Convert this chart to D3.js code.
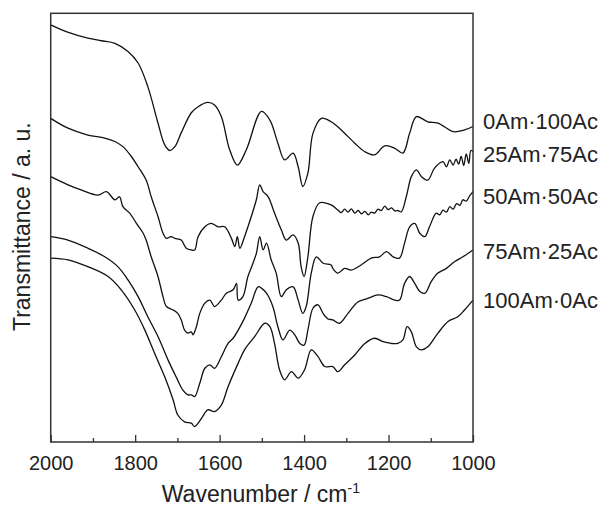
<!DOCTYPE html>
<html>
<head>
<meta charset="utf-8">
<script src="https://cdn.jsdelivr.net/npm/d3@7"></script>
<style>
  body { margin: 0; background: #fff; }
  text { font-family: "Liberation Sans", Arial, sans-serif; fill: #222; }
</style>
</head>
<body>
<div id="svg-container"></div>
<script>
// FTIR spectra, [wavenumber (cm-1), transmittance (a.u.)]
var am0ac100 = [[2000,97.3],[1960,95.6],[1912,94.2],[1880,93.6],[1848,93.0],[1817,91.1],[1793,88.4],[1770,82.9],[1746,74.4],[1730,69.3],[1718,68.0],[1706,68.9],[1691,72.1],[1667,76.8],[1651,78.2],[1628,79.2],[1612,78.6],[1596,75.9],[1576,68.1],[1558,64.6],[1537,68.1],[1501,77.1],[1481,75.1],[1462,69.7],[1446,65.8],[1426,67.4],[1414,64.2],[1403,59.6],[1391,62.7],[1379,72.0],[1359,75.5],[1336,74.7],[1312,72.8],[1280,69.7],[1256,67.7],[1233,67.0],[1209,69.1],[1185,68.5],[1166,67.4],[1150,72.0],[1134,75.9],[1107,74.7],[1083,74.4],[1047,72.4],[1020,72.8],[1000,73.6]];

var am25ac75 = [[2000,75.5],[1959,73.2],[1912,71.6],[1872,70.9],[1848,70.1],[1829,68.9],[1809,66.6],[1793,64.2],[1774,61.1],[1762,57.2],[1746,52.6],[1734,48.7],[1726,47.5],[1715,47.9],[1706,47.5],[1691,47.1],[1679,45.2],[1667,44.8],[1659,44.8],[1651,47.9],[1635,50.2],[1620,51.0],[1604,50.2],[1588,50.2],[1572,47.5],[1564,45.6],[1558,47.9],[1552,45.2],[1541,47.9],[1525,52.6],[1513,56.5],[1505,60.0],[1497,58.4],[1485,57.2],[1470,53.4],[1454,49.5],[1442,47.1],[1426,48.3],[1414,46.4],[1407,40.9],[1400,38.6],[1391,43.2],[1379,52.6],[1363,55.8],[1336,55.3],[1320,54.1],[1312,53.5],[1304,54.3],[1296,53.6],[1288,54.4],[1280,53.4],[1272,54.0],[1264,53.2],[1256,53.8],[1248,53.0],[1241,53.6],[1233,53.4],[1225,54.3],[1217,54.0],[1209,55.0],[1201,54.2],[1193,54.6],[1185,53.9],[1178,54.0],[1170,53.7],[1158,57.2],[1146,61.9],[1134,63.5],[1122,61.9],[1107,61.1],[1091,63.9],[1071,65.4],[1063,64.2],[1055,65.8],[1047,64.6],[1040,66.0],[1034,64.8],[1028,66.6],[1022,64.5],[1016,67.2],[1010,65.0],[1005,68.0],[1000,67.7]];

var am50ac50 = [[2000,61.9],[1959,60.0],[1928,58.8],[1888,57.6],[1868,58.4],[1848,56.5],[1837,57.2],[1829,54.9],[1813,53.4],[1797,51.0],[1781,48.7],[1774,47.1],[1762,43.2],[1746,38.6],[1734,33.9],[1726,31.6],[1710,30.8],[1699,30.0],[1691,28.5],[1683,26.1],[1675,25.4],[1667,25.7],[1663,25.0],[1655,26.9],[1647,30.0],[1635,32.4],[1623,33.1],[1612,31.6],[1596,33.1],[1584,34.7],[1568,35.5],[1560,37.0],[1556,33.1],[1545,33.9],[1533,38.6],[1521,41.7],[1513,44.0],[1505,47.9],[1497,44.8],[1489,46.4],[1478,42.5],[1466,39.4],[1454,33.9],[1442,35.5],[1426,36.2],[1414,33.1],[1403,30.0],[1395,31.6],[1383,39.4],[1371,43.2],[1355,41.7],[1336,41.3],[1332,40.5],[1320,39.4],[1304,40.5],[1288,40.1],[1265,41.3],[1241,42.9],[1221,43.2],[1205,44.4],[1189,43.2],[1174,42.9],[1162,46.4],[1150,50.2],[1138,51.0],[1126,48.7],[1114,47.9],[1103,50.2],[1087,53.4],[1079,53.0],[1071,54.1],[1063,53.6],[1055,54.9],[1047,54.3],[1039,55.6],[1031,55.2],[1024,56.5],[1016,56.2],[1008,57.4],[1000,58.4]];

var am75ac25 = [[2000,47.9],[1959,47.1],[1912,45.2],[1872,43.2],[1841,40.9],[1817,37.8],[1793,33.9],[1770,29.2],[1746,24.6],[1722,19.1],[1703,15.2],[1687,12.1],[1675,11.0],[1667,11.0],[1659,10.6],[1647,13.7],[1635,17.2],[1623,18.0],[1612,17.2],[1596,19.9],[1580,23.0],[1568,24.2],[1556,26.1],[1541,28.9],[1525,32.4],[1509,36.2],[1501,35.9],[1489,34.7],[1474,31.6],[1462,26.9],[1450,23.8],[1434,26.1],[1422,25.0],[1410,23.0],[1400,22.6],[1391,26.1],[1379,31.2],[1367,32.0],[1355,30.0],[1343,28.7],[1332,28.5],[1316,27.7],[1296,30.0],[1272,32.7],[1249,33.5],[1225,34.3],[1205,33.9],[1185,33.1],[1174,33.1],[1162,37.0],[1150,38.6],[1138,37.0],[1126,35.1],[1114,34.7],[1099,37.4],[1083,39.4],[1063,40.5],[1043,42.1],[1024,43.2],[1000,44.8]];

var am100ac0 = [[2000,42.9],[1959,42.5],[1912,40.9],[1864,38.6],[1833,35.5],[1801,30.8],[1777,26.1],[1754,20.7],[1730,15.2],[1710,9.8],[1699,6.3],[1683,4.7],[1667,4.4],[1659,3.6],[1643,5.5],[1628,7.5],[1612,7.1],[1596,8.6],[1580,12.9],[1556,18.4],[1541,21.5],[1517,24.6],[1493,27.7],[1481,26.9],[1470,23.0],[1458,16.8],[1446,14.5],[1430,16.4],[1414,14.9],[1399,16.8],[1383,21.5],[1367,19.9],[1351,17.6],[1332,17.6],[1320,16.4],[1304,18.0],[1280,20.3],[1256,23.0],[1233,24.2],[1213,23.4],[1194,23.0],[1178,23.0],[1166,23.8],[1156,26.9],[1146,25.7],[1134,22.2],[1122,21.5],[1107,22.2],[1083,25.4],[1059,28.1],[1036,29.2],[1020,30.8],[1000,33.1]];

var seriesData = [am0ac100, am25ac75, am50ac50, am75ac25, am100ac0];
var seriesNames = ["0Am\u00b7100Ac", "25Am\u00b775Ac", "50Am\u00b750Ac", "75Am\u00b725Ac", "100Am\u00b70Ac"];
var majorTicks = [2000, 1800, 1600, 1400, 1200, 1000];
var minorTicks = [1900, 1700, 1500, 1300, 1100];

var W = 605, H = 506;
var plotL = 50.7, plotR = 473, plotT = 13.3, plotB = 442;

var svg = d3.select("#svg-container").append("svg")
	.attr("width", W)
	.attr("height", H);

var x = d3.scaleLinear().domain([2000, 1000]).range([plotL, plotR]);
var y = d3.scaleLinear().domain([0, 100]).range([plotB, plotT]);

// spectra
var line = d3.line()
	.curve(d3.curveCatmullRom.alpha(0.5))
	.x(function(d){ return x(d[0]) })
	.y(function(d){ return y(d[1]) });

svg.append("g").selectAll("path")
	.data(seriesData)
	.enter()
	.append("path")
	.attr("d", line)
	.attr("fill", "none")
	.attr("stroke", "#111")
	.attr("stroke-width", 1.3)
	.attr("stroke-linejoin", "round");

// bottom axis, ticks pointing in
var xAxis = svg.append("g")
	.attr("transform", "translate(0," + plotB + ")")
	.call(d3.axisBottom(x).tickValues(majorTicks).tickSizeInner(-7).tickSizeOuter(0).tickPadding(14).tickFormat(d3.format("d")));
xAxis.select(".domain").remove();
xAxis.selectAll("line").attr("stroke", "#333").attr("stroke-width", 1.3);
xAxis.selectAll("text").style("font-size", "20px").attr("fill", "#222");

var xMinor = svg.append("g")
	.attr("transform", "translate(0," + plotB + ")")
	.call(d3.axisBottom(x).tickValues(minorTicks).tickSizeInner(-4).tickSizeOuter(0).tickFormat(""));
xMinor.select(".domain").remove();
xMinor.selectAll("line").attr("stroke", "#333").attr("stroke-width", 1.3);

// frame
svg.append("rect")
	.attr("x", plotL)
	.attr("y", plotT)
	.attr("width", plotR - plotL)
	.attr("height", plotB - plotT)
	.attr("fill", "none")
	.attr("stroke", "#333")
	.attr("stroke-width", 1.5);

// series labels at the right end of each curve
var nudge = [-5, 3, 5, 2, 0];
svg.append("g").selectAll("text")
	.data(seriesData)
	.enter()
	.append("text")
	.attr("x", plotR + 10)
	.attr("y", function(d, i){ return y(d[d.length - 1][1]) + nudge[i] + 7.5 })
	.style("font-size", "22px")
	.text(function(d, i){ return seriesNames[i] });

// axis titles
var xt = svg.append("text")
	.attr("x", (plotL + plotR) / 2 - 1)
	.attr("y", 502)
	.attr("text-anchor", "middle")
	.style("font-size", "23px");
xt.append("tspan").text("Wavenumber / cm");
xt.append("tspan").attr("dy", -9).style("font-size", "14px").text("-1");

svg.append("text")
	.attr("transform", "translate(30," + ((plotT + plotB) / 2 - 1) + ") rotate(-90)")
	.attr("text-anchor", "middle")
	.style("font-size", "23px")
	.text("Transmittance / a. u.");
</script>
</body>
</html>
